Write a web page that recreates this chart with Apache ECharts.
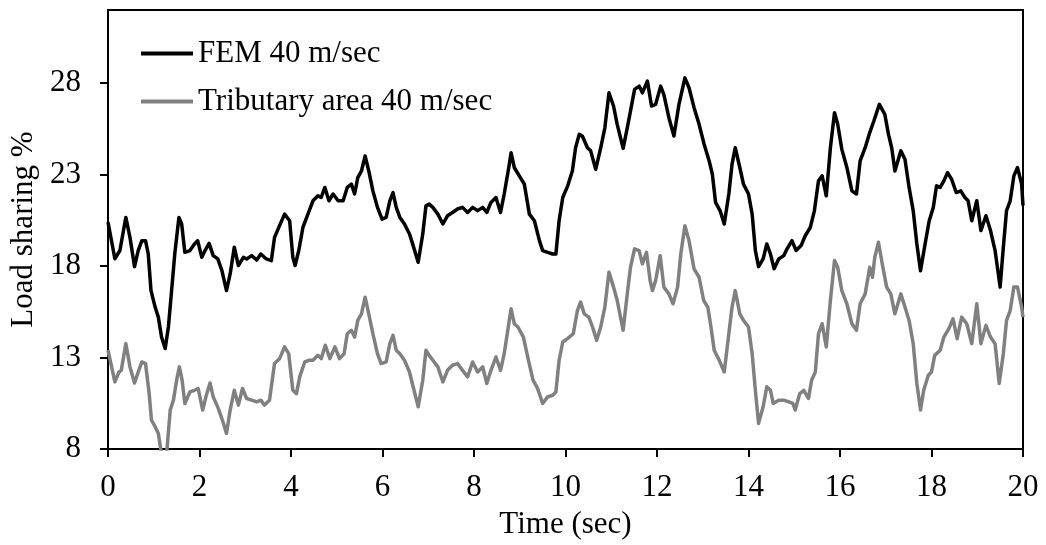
<!DOCTYPE html>
<html>
<head>
<meta charset="utf-8">
<script src="https://cdn.jsdelivr.net/npm/echarts@6/dist/echarts.min.js"></script>
<style>
  html, body { margin: 0; padding: 0; background: #fff; }
  #main { width: 1046px; height: 545px; }
</style>
</head>
<body>
<div id="main"></div>
<script>
// 时间 (sec) 和荷载分担 (%)
var seriesNames = ['FEM 40 m/sec', 'Tributary area 40 m/sec'];
var yTicks = [8, 13, 18, 23, 28];

var femTime = [0.0,0.15,0.26,0.39,0.48,0.58,0.66,0.74,0.82,0.88,0.94,1.03,1.10,1.17,1.25,1.32,1.39,1.46,1.55,1.61,1.68,1.79,1.89,1.96,2.05,2.12,2.21,2.30,2.40,2.49,2.59,2.67,2.76,2.85,2.96,3.03,3.14,3.25,3.34,3.46,3.57,3.64,3.75,3.86,3.97,4.04,4.09,4.17,4.26,4.37,4.48,4.59,4.66,4.74,4.83,4.92,5.03,5.14,5.23,5.32,5.39,5.46,5.54,5.62,5.70,5.79,5.89,5.99,6.08,6.16,6.23,6.30,6.38,6.48,6.59,6.66,6.78,6.88,6.95,7.02,7.10,7.21,7.32,7.42,7.53,7.64,7.75,7.86,7.97,8.08,8.19,8.28,8.37,8.48,8.58,8.66,8.76,8.81,8.88,8.99,9.10,9.21,9.32,9.43,9.50,9.61,9.72,9.79,9.86,9.94,10.05,10.15,10.22,10.30,10.37,10.48,10.55,10.66,10.77,10.86,10.95,11.05,11.13,11.26,11.35,11.42,11.51,11.61,11.68,11.79,11.88,11.97,12.08,12.15,12.26,12.37,12.48,12.61,12.70,12.81,12.92,13.03,13.14,13.21,13.28,13.38,13.47,13.57,13.64,13.71,13.81,13.89,14.00,14.08,14.15,14.22,14.32,14.40,14.48,14.56,14.66,14.77,14.84,14.95,15.04,15.15,15.24,15.35,15.44,15.53,15.61,15.70,15.79,15.88,15.95,16.04,16.15,16.26,16.36,16.44,16.55,16.65,16.74,16.86,16.98,17.06,17.13,17.20,17.33,17.42,17.51,17.60,17.68,17.76,17.86,17.95,18.04,18.11,18.19,18.27,18.35,18.44,18.54,18.64,18.73,18.80,18.88,18.99,19.08,19.19,19.29,19.39,19.50,19.57,19.64,19.72,19.80,19.88,19.97,20.0];
var femLoad = [20.4,18.4,18.85,20.66,19.57,17.97,18.85,19.39,19.39,18.66,16.66,15.76,15.21,14.12,13.49,14.67,16.66,18.68,20.66,20.3,18.75,18.85,19.21,19.39,18.48,18.85,19.24,18.57,18.39,17.75,16.66,17.57,19.03,18.03,18.48,18.39,18.57,18.33,18.66,18.39,18.3,19.57,20.21,20.84,20.48,18.48,18.03,18.85,20.11,20.84,21.57,21.84,21.75,22.3,21.57,21.94,21.57,21.57,22.3,22.48,21.94,22.84,23.2,24.02,23.2,22.11,21.21,20.57,20.66,21.57,22.02,21.21,20.66,20.3,19.75,19.2,18.21,19.75,21.3,21.39,21.21,20.84,20.3,20.75,20.93,21.12,21.21,20.93,21.21,21.03,21.21,20.93,21.48,21.75,20.93,21.94,23.39,24.2,23.39,22.93,22.48,20.84,20.48,19.39,18.85,18.75,18.66,18.66,20.48,21.75,22.4,23.2,24.47,25.2,25.1,24.47,24.3,23.29,24.47,25.56,27.47,26.75,25.75,24.44,25.56,26.47,27.66,27.84,27.47,28.11,26.75,26.84,27.84,27.38,26.11,25.11,26.84,28.29,27.75,26.66,25.75,24.66,23.75,23.02,21.48,21.02,20.3,21.94,23.57,24.47,23.39,22.48,21.94,20.84,18.85,17.97,18.39,19.21,18.66,17.85,18.39,18.57,18.93,19.39,18.85,19.12,19.66,20.11,21.02,22.66,22.93,21.84,24.47,26.38,25.75,24.38,23.39,22.11,21.94,23.75,24.47,25.3,25.93,26.84,26.29,25.2,24.47,23.2,24.3,23.84,22.3,21.03,19.21,17.75,19.21,20.48,21.21,22.39,22.3,22.66,23.11,22.75,22.02,22.11,21.75,21.57,20.48,21.57,19.94,20.75,19.94,18.85,16.85,19.03,21.03,21.57,22.93,23.39,22.48,21.3];

var tribTime = [0.0,0.15,0.24,0.29,0.39,0.48,0.58,0.66,0.74,0.82,0.90,0.95,1.03,1.10,1.17,1.22,1.28,1.36,1.43,1.50,1.56,1.62,1.68,1.79,1.89,1.97,2.07,2.14,2.23,2.30,2.41,2.50,2.59,2.67,2.76,2.85,2.94,3.03,3.14,3.25,3.34,3.42,3.53,3.64,3.75,3.86,3.95,4.04,4.12,4.19,4.30,4.39,4.48,4.59,4.66,4.75,4.85,4.96,5.06,5.16,5.23,5.32,5.39,5.46,5.54,5.62,5.70,5.79,5.89,5.97,6.08,6.16,6.23,6.30,6.38,6.48,6.59,6.66,6.78,6.88,6.95,7.02,7.10,7.21,7.32,7.42,7.53,7.64,7.75,7.86,7.97,8.08,8.19,8.28,8.37,8.48,8.58,8.66,8.76,8.81,8.88,8.96,9.08,9.19,9.29,9.39,9.50,9.61,9.72,9.79,9.86,9.94,10.05,10.17,10.26,10.33,10.41,10.51,10.59,10.68,10.77,10.86,10.95,11.05,11.13,11.26,11.35,11.42,11.51,11.61,11.68,11.77,11.85,11.90,11.97,12.07,12.15,12.26,12.35,12.45,12.52,12.61,12.70,12.81,12.92,13.02,13.11,13.18,13.25,13.36,13.47,13.57,13.64,13.71,13.81,13.89,14.00,14.08,14.15,14.22,14.32,14.40,14.48,14.54,14.66,14.77,14.88,14.97,15.02,15.12,15.21,15.31,15.38,15.46,15.53,15.61,15.70,15.79,15.88,15.95,16.04,16.15,16.26,16.36,16.44,16.55,16.65,16.71,16.76,16.84,16.93,17.02,17.11,17.20,17.33,17.42,17.51,17.60,17.68,17.76,17.83,17.93,18.00,18.07,18.19,18.27,18.38,18.47,18.56,18.66,18.77,18.88,18.99,19.08,19.19,19.29,19.39,19.48,19.57,19.64,19.72,19.80,19.88,19.97,20.0];
var tribLoad = [13.4,11.67,12.21,12.3,13.76,12.49,11.61,12.21,12.76,12.67,11.03,9.58,9.22,8.85,7.7,7.6,7.7,10.13,10.67,11.76,12.49,11.76,10.49,11.12,11.21,11.31,10.13,10.85,11.61,10.85,10.22,9.58,8.85,10.13,11.21,10.4,11.31,10.76,10.67,10.58,10.67,10.4,10.67,12.67,12.94,13.58,13.21,11.21,11.03,11.94,12.76,12.85,12.85,13.12,12.94,13.67,12.94,13.58,12.94,13.21,14.3,14.49,14.12,15.03,15.39,16.3,15.39,14.3,13.21,12.67,12.76,13.76,14.21,13.4,13.21,12.85,12.21,11.5,10.31,11.76,13.4,13.12,12.85,12.49,11.67,12.3,12.58,12.67,12.3,11.94,12.76,12.21,12.49,11.58,12.3,13.03,12.3,13.21,14.85,15.67,14.85,14.67,14.12,12.85,11.76,11.31,10.49,10.85,10.94,11.12,12.85,13.85,14.05,14.3,15.57,16.03,15.39,15.21,14.67,13.94,14.67,15.76,17.67,16.85,16.12,14.49,16.48,17.93,18.94,18.85,18.12,18.75,17.21,16.66,17.21,18.57,16.85,16.48,15.94,16.85,18.66,20.21,19.39,17.85,17.39,16.12,15.76,14.67,13.4,12.85,12.21,14.3,15.76,16.66,15.39,15.03,14.67,13.21,11.21,9.4,10.31,11.4,11.21,10.49,10.67,10.67,10.58,10.49,10.13,11.03,11.21,10.76,11.76,12.21,14.3,14.85,13.58,16.12,18.3,17.93,16.66,15.94,14.85,14.49,15.94,16.48,17.93,17.39,18.48,19.3,18.03,16.85,16.48,15.39,16.48,15.76,15.03,13.76,11.58,10.13,11.21,12.03,12.21,13.12,13.4,14.12,14.58,15.12,14.03,15.21,14.85,13.76,15.94,13.76,14.76,14.12,13.76,11.58,13.21,15.03,15.57,16.85,16.85,15.76,15.21];

function toPairs(xs, ys) {
	var out = [];
	for (var i = 0; i < xs.length; i++) {
		out.push([xs[i], ys[i]]);
	}
	return out;
}

var FONT = 'Liberation Serif, Times New Roman, serif';
var myChart = echarts.init(document.getElementById('main'), null, { renderer: 'canvas' });

var option = {
	animation: false,
	backgroundColor: '#fff',
	color: ['#000000', '#808080'],
	textStyle: { fontFamily: FONT, color: '#000' },
	grid: {
		left: 108,
		right: 23,
		top: 10,
		bottom: 96,
		show: true,
		borderColor: '#000',
		borderWidth: 2,
		backgroundColor: 'transparent'
	},
	legend: {
		orient: 'vertical',
		left: 136,
		top: 33,
		icon: 'rect',
		itemWidth: 52,
		itemHeight: 4,
		itemGap: 17,
		textStyle: { fontFamily: FONT, fontSize: 31, color: '#000', lineHeight: 31 },
		data: seriesNames
	},
	xAxis: {
		type: 'value',
		min: 0,
		max: 20,
		interval: 2,
		name: 'Time (sec)',
		nameLocation: 'middle',
		nameGap: 60,
		nameTextStyle: { fontFamily: FONT, fontSize: 31, color: '#000' },
		axisLine: { lineStyle: { color: '#000', width: 2 } },
		axisTick: { show: true, inside: false, length: 8, lineStyle: { color: '#000', width: 2 } },
		axisLabel: { fontFamily: FONT, fontSize: 31, color: '#000', margin: 23 },
		splitLine: { show: false }
	},
	yAxis: {
		type: 'value',
		min: 8,
		max: 32,
		interval: 5,
		name: 'Load sharing %',
		nameLocation: 'middle',
		nameGap: 61,
		nameTextStyle: { fontFamily: FONT, fontSize: 31, color: '#000' },
		axisLine: { show: true, lineStyle: { color: '#000', width: 2 } },
		axisTick: { show: true, inside: false, length: 8, customValues: yTicks, lineStyle: { color: '#000', width: 2 } },
		axisLabel: { fontFamily: FONT, fontSize: 31, color: '#000', margin: 27, customValues: yTicks },
		splitLine: { show: false }
	},
	series: [
		{
			name: seriesNames[0],
			type: 'line',
			showSymbol: false,
			clip: true,
			lineStyle: { color: '#000000', width: 3.5, join: 'round' },
			itemStyle: { color: '#000000' },
			data: toPairs(femTime, femLoad)
		},
		{
			name: seriesNames[1],
			type: 'line',
			showSymbol: false,
			clip: true,
			lineStyle: { color: '#808080', width: 3.5, join: 'round' },
			itemStyle: { color: '#808080' },
			data: toPairs(tribTime, tribLoad)
		}
	]
};

myChart.setOption(option);
</script>
</body>
</html>
